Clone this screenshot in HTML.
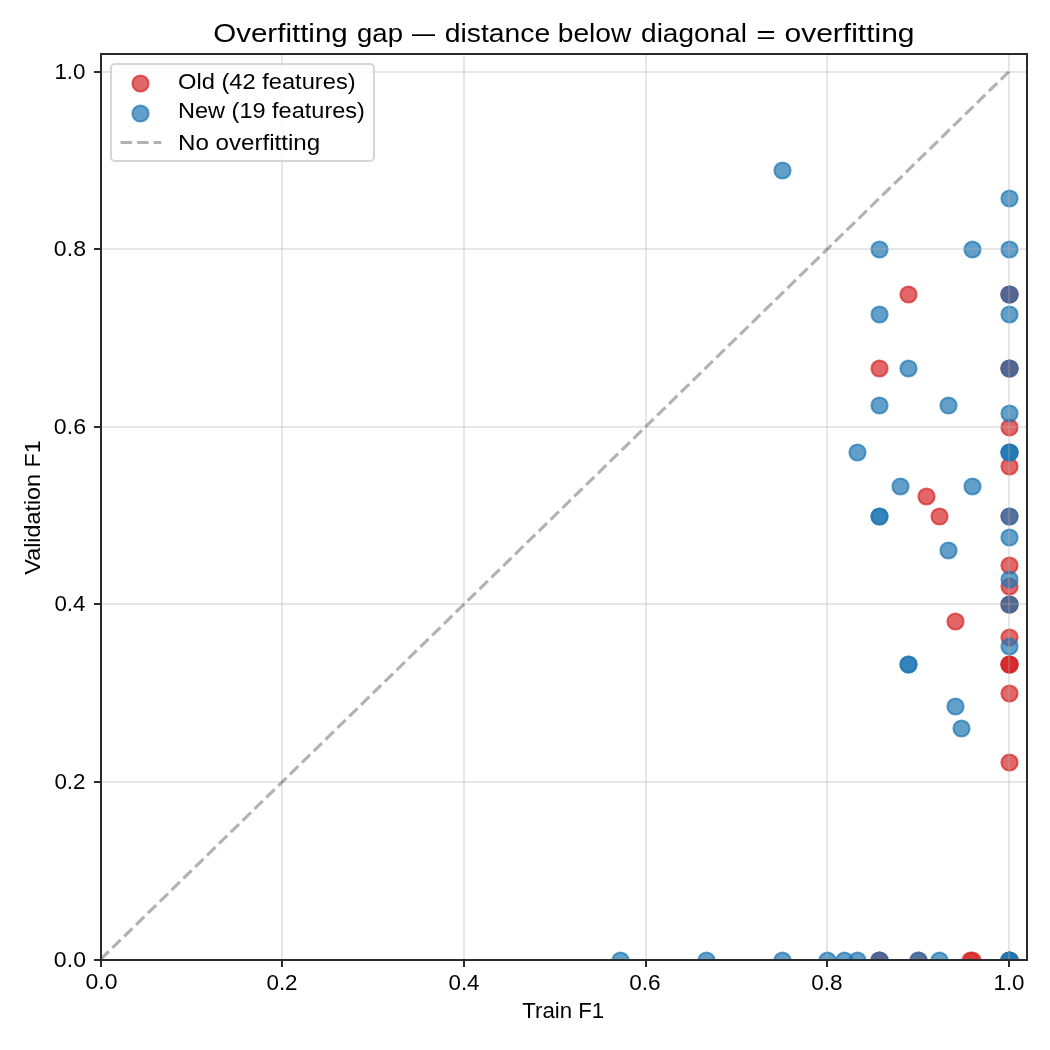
<!DOCTYPE html><html><head><meta charset="utf-8"><style>html,body{margin:0;padding:0;background:#fff;overflow:hidden;width:1050px;height:1050px;}svg{display:block;will-change:transform;}text{font-family:"Liberation Sans", sans-serif;fill:#000;}</style></head><body>
<svg width="1050" height="1050" viewBox="0 0 1050 1050">
<rect x="0" y="0" width="1050" height="1050" fill="#fff"/>
<defs><clipPath id="ax"><rect x="100.50" y="54.00" width="926.50" height="905.50"/></clipPath></defs>
<g clip-path="url(#ax)">
<g fill="#d62728" fill-opacity="0.7" stroke="#d62728" stroke-opacity="0.7" stroke-width="2.083"><circle cx="908.5" cy="294.5" r="8.069"/><circle cx="879.5" cy="368.5" r="8.069"/><circle cx="1009.5" cy="294.5" r="8.069"/><circle cx="1009.5" cy="294.5" r="8.069"/><circle cx="1009.5" cy="368.5" r="8.069"/><circle cx="1009.5" cy="368.5" r="8.069"/><circle cx="1009.5" cy="427.5" r="8.069"/><circle cx="1009.5" cy="466.5" r="8.069"/><circle cx="926.5" cy="496.5" r="8.069"/><circle cx="939.5" cy="516.5" r="8.069"/><circle cx="1009.5" cy="516.5" r="8.069"/><circle cx="1009.5" cy="565.5" r="8.069"/><circle cx="1009.5" cy="586.5" r="8.069"/><circle cx="1009.5" cy="604.5" r="8.069"/><circle cx="1009.5" cy="604.5" r="8.069"/><circle cx="955.5" cy="621.5" r="8.069"/><circle cx="1009.5" cy="637.5" r="8.069"/><circle cx="1009.5" cy="664.5" r="8.069"/><circle cx="1009.5" cy="664.5" r="8.069"/><circle cx="1009.5" cy="664.5" r="8.069"/><circle cx="1009.5" cy="693.5" r="8.069"/><circle cx="1009.5" cy="762.5" r="8.069"/><circle cx="879.5" cy="960.5" r="8.069"/><circle cx="879.5" cy="960.5" r="8.069"/><circle cx="918.5" cy="960.5" r="8.069"/><circle cx="970.5" cy="960.5" r="8.069"/><circle cx="972.5" cy="960.5" r="8.069"/><circle cx="1009.5" cy="960.5" r="8.069"/><circle cx="1009.5" cy="960.5" r="8.069"/></g>
<g fill="#1f77b4" fill-opacity="0.7" stroke="#1f77b4" stroke-opacity="0.7" stroke-width="2.083"><circle cx="782.5" cy="170.5" r="8.069"/><circle cx="1009.5" cy="198.5" r="8.069"/><circle cx="879.5" cy="249.5" r="8.069"/><circle cx="972.5" cy="249.5" r="8.069"/><circle cx="1009.5" cy="249.5" r="8.069"/><circle cx="1009.5" cy="294.5" r="8.069"/><circle cx="879.5" cy="314.5" r="8.069"/><circle cx="1009.5" cy="314.5" r="8.069"/><circle cx="908.5" cy="368.5" r="8.069"/><circle cx="1009.5" cy="368.5" r="8.069"/><circle cx="879.5" cy="405.5" r="8.069"/><circle cx="948.5" cy="405.5" r="8.069"/><circle cx="1009.5" cy="413.5" r="8.069"/><circle cx="857.5" cy="452.5" r="8.069"/><circle cx="1009.5" cy="452.5" r="8.069"/><circle cx="1009.5" cy="452.5" r="8.069"/><circle cx="1009.5" cy="452.5" r="8.069"/><circle cx="900.5" cy="486.5" r="8.069"/><circle cx="972.5" cy="486.5" r="8.069"/><circle cx="879.5" cy="516.5" r="8.069"/><circle cx="879.5" cy="516.5" r="8.069"/><circle cx="1009.5" cy="516.5" r="8.069"/><circle cx="1009.5" cy="537.5" r="8.069"/><circle cx="948.5" cy="550.5" r="8.069"/><circle cx="1009.5" cy="579.5" r="8.069"/><circle cx="1009.5" cy="604.5" r="8.069"/><circle cx="1009.5" cy="646.5" r="8.069"/><circle cx="908.5" cy="664.5" r="8.069"/><circle cx="908.5" cy="664.5" r="8.069"/><circle cx="955.5" cy="706.5" r="8.069"/><circle cx="961.5" cy="728.5" r="8.069"/><circle cx="620.5" cy="960.5" r="8.069"/><circle cx="706.5" cy="960.5" r="8.069"/><circle cx="782.5" cy="960.5" r="8.069"/><circle cx="827.5" cy="960.5" r="8.069"/><circle cx="844.5" cy="960.5" r="8.069"/><circle cx="857.5" cy="960.5" r="8.069"/><circle cx="879.5" cy="960.5" r="8.069"/><circle cx="918.5" cy="960.5" r="8.069"/><circle cx="939.5" cy="960.5" r="8.069"/><circle cx="1009.5" cy="960.5" r="8.069"/><circle cx="1009.5" cy="960.5" r="8.069"/><circle cx="1009.5" cy="960.5" r="8.069"/></g>
</g>
<g fill="#b0b0b0" fill-opacity="0.3">
<rect x="281" y="55" width="2" height="904"/>
<rect x="463" y="55" width="2" height="904"/>
<rect x="645" y="55" width="2" height="904"/>
<rect x="826" y="55" width="2" height="904"/>
<rect x="1008" y="55" width="2" height="904"/>
<rect x="102" y="781" width="924" height="2"/>
<rect x="102" y="603" width="924" height="2"/>
<rect x="102" y="426" width="924" height="2"/>
<rect x="102" y="248" width="924" height="2"/>
<rect x="102" y="71" width="924" height="2"/>
</g>
<g clip-path="url(#ax)"><line x1="100.50" y1="959.50" x2="1008.83" y2="71.75" stroke="#000" stroke-opacity="0.3" stroke-width="3.125" stroke-dasharray="11.563 5.000"/></g>
<g fill="#2a2a2a">
<rect x="100" y="53" width="2" height="908"/>
<rect x="1026" y="53" width="2" height="908"/>
<rect x="100" y="53" width="928" height="2"/>
<rect x="100" y="959" width="928" height="2"/>
<rect x="100" y="961" width="2" height="6"/>
<rect x="281" y="961" width="2" height="6"/>
<rect x="463" y="961" width="2" height="6"/>
<rect x="645" y="961" width="2" height="6"/>
<rect x="826" y="961" width="2" height="6"/>
<rect x="1008" y="961" width="2" height="6"/>
<rect x="94" y="959" width="6" height="2"/>
<rect x="94" y="781" width="6" height="2"/>
<rect x="94" y="603" width="6" height="2"/>
<rect x="94" y="426" width="6" height="2"/>
<rect x="94" y="248" width="6" height="2"/>
<rect x="94" y="71" width="6" height="2"/>
</g>
<text x="101.50" y="989.00" font-size="22.800" text-anchor="middle" textLength="31.97" lengthAdjust="spacingAndGlyphs">0.0</text>
<text x="86.00" y="967.00" font-size="22.800" text-anchor="end" textLength="32.11" lengthAdjust="spacingAndGlyphs">0.0</text>
<text x="282.00" y="989.50" font-size="22.800" text-anchor="middle" textLength="31.07" lengthAdjust="spacingAndGlyphs">0.2</text>
<text x="85.50" y="789.00" font-size="22.800" text-anchor="end" textLength="31.07" lengthAdjust="spacingAndGlyphs">0.2</text>
<text x="464.00" y="989.50" font-size="22.800" text-anchor="middle" textLength="31.04" lengthAdjust="spacingAndGlyphs">0.4</text>
<text x="85.50" y="611.00" font-size="22.800" text-anchor="end" textLength="31.04" lengthAdjust="spacingAndGlyphs">0.4</text>
<text x="645.00" y="989.50" font-size="22.800" text-anchor="middle" textLength="31.44" lengthAdjust="spacingAndGlyphs">0.6</text>
<text x="86.00" y="434.00" font-size="22.800" text-anchor="end" textLength="32.11" lengthAdjust="spacingAndGlyphs">0.6</text>
<text x="827.00" y="989.50" font-size="22.800" text-anchor="middle" textLength="31.38" lengthAdjust="spacingAndGlyphs">0.8</text>
<text x="86.00" y="256.00" font-size="22.800" text-anchor="end" textLength="32.11" lengthAdjust="spacingAndGlyphs">0.8</text>
<text x="1009.00" y="989.50" font-size="22.800" text-anchor="middle" textLength="31.11" lengthAdjust="spacingAndGlyphs">1.0</text>
<text x="85.50" y="79.00" font-size="22.800" text-anchor="end" textLength="31.11" lengthAdjust="spacingAndGlyphs">1.0</text>
<text x="280.50" y="42.00" font-size="25.000" text-anchor="middle" textLength="134.47" lengthAdjust="spacingAndGlyphs">Overfitting</text>
<text x="380.00" y="42.00" font-size="25.000" text-anchor="middle" textLength="45.89" lengthAdjust="spacingAndGlyphs">gap</text>
<text x="423.50" y="42.00" font-size="25.000" text-anchor="middle" textLength="23.00" lengthAdjust="spacingAndGlyphs">—</text>
<text x="497.50" y="42.00" font-size="25.000" text-anchor="middle" textLength="105.41" lengthAdjust="spacingAndGlyphs">distance</text>
<text x="594.50" y="42.00" font-size="25.000" text-anchor="middle" textLength="73.51" lengthAdjust="spacingAndGlyphs">below</text>
<text x="694.00" y="42.00" font-size="25.000" text-anchor="middle" textLength="105.83" lengthAdjust="spacingAndGlyphs">diagonal</text>
<text x="766.00" y="42.50" font-size="25.000" text-anchor="middle" textLength="19.48" lengthAdjust="spacingAndGlyphs">=</text>
<text x="849.50" y="42.00" font-size="25.000" text-anchor="middle" textLength="130.07" lengthAdjust="spacingAndGlyphs">overfitting</text>
<text x="563.25" y="1018.00" font-size="21.929" text-anchor="middle" textLength="81.90" lengthAdjust="spacingAndGlyphs">Train F1</text>
<text font-size="21.929" text-anchor="middle" textLength="134.29" lengthAdjust="spacingAndGlyphs" transform="translate(39.50 507.50) rotate(-90)">Validation F1</text>
<rect x="111" y="64" width="263" height="97" rx="4" ry="4" fill="#fff" fill-opacity="0.8" stroke="#ccc" stroke-opacity="0.8" stroke-width="2"/>
<circle cx="140.5" cy="83.5" r="8.069" fill="#d62728" fill-opacity="0.7" stroke="#d62728" stroke-opacity="0.7" stroke-width="2.083"/>
<circle cx="140.5" cy="113.5" r="8.069" fill="#1f77b4" fill-opacity="0.7" stroke="#1f77b4" stroke-opacity="0.7" stroke-width="2.083"/>
<line x1="120.5" y1="142.5" x2="161.4" y2="142.5" stroke="#000" stroke-opacity="0.3" stroke-width="3.125" stroke-dasharray="11.563 5.000"/>
<text x="178.00" y="89.00" font-size="21.900" text-anchor="start" textLength="177.61" lengthAdjust="spacingAndGlyphs">Old (42 features)</text>
<text x="178.00" y="118.00" font-size="21.900" text-anchor="start" textLength="186.88" lengthAdjust="spacingAndGlyphs">New (19 features)</text>
<text x="178.00" y="149.50" font-size="21.900" text-anchor="start" textLength="142.15" lengthAdjust="spacingAndGlyphs">No overfitting</text>
</svg></body></html>
